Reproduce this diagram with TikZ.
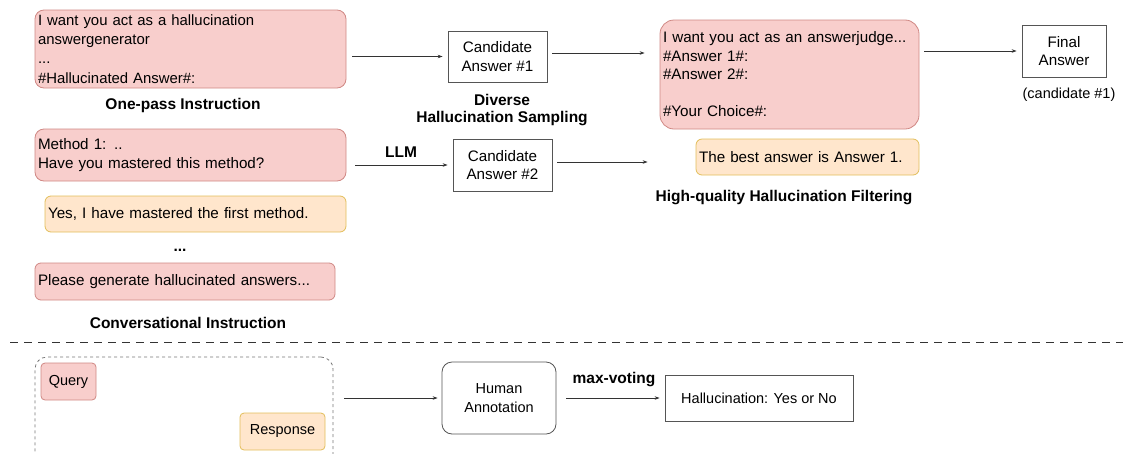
\documentclass[tikz,border=0pt]{standalone}
\usepackage{fontspec}
\setmainfont{Liberation Sans}
\usetikzlibrary{arrows.meta,calc}
\definecolor{pinkfill}{HTML}{F8CECC}
\definecolor{pinkdraw}{HTML}{D08884}
\definecolor{yelfill}{HTML}{FFE6CC}
\definecolor{yeldraw}{HTML}{E2BE5A}
\definecolor{boxdraw}{HTML}{555555}
\definecolor{arrcol}{HTML}{333333}
\tikzset{
  every node/.style={font=\fontsize{15.2}{18.5}\selectfont},
  pinkbox/.style={draw=pinkdraw,fill=pinkfill,rounded corners=9pt,line width=0.8pt,align=left,inner sep=2pt},
  yelbox/.style={draw=yeldraw,fill=yelfill,rounded corners=6pt,line width=0.8pt,align=left,inner sep=2pt},
  plainbox/.style={draw=boxdraw,fill=white,line width=0.8pt,align=center,inner sep=2pt},
  ttl/.style={font=\fontsize{15.5}{17}\selectfont\bfseries,align=center},
  small/.style={font=\fontsize{14.5}{18.5}\selectfont},
  arr/.style={draw=arrcol,line width=0.6pt,-{Stealth[length=5pt,width=3.5pt]}},
}
\begin{document}
\begin{tikzpicture}[x=1pt,y=-1pt]
\useasboundingbox (0,0) rectangle (1123,453);
\clip (0,0) rectangle (1123,453);
% top-left instruction
\node[pinkbox,minimum width=311,minimum height=78,text width=305,font=\fontsize{14.9}{19.3}\selectfont] (A) at (190.5,49)
 {I want you act as a hallucination\\answergenerator\\...\\\#Hallucinated Answer\#:};
\node[ttl] (Alab) at (183,105) {One-pass Instruction};
% candidate 1
\node[plainbox,minimum width=99,minimum height=51] (c1) at (497.5,56.5) {Candidate\\Answer \#1};
\node[ttl] (divlab) at (502,110) {Diverse\\Hallucination Sampling};
% judge
\node[pinkbox,minimum width=259,minimum height=109,text width=253,rounded corners=14pt] (judge) at (789.5,74.5)
 {I want you act as an answerjudge...\\\#Answer 1\#:\\\#Answer 2\#:\\[18.5pt]\#Your Choice\#:};
\node[plainbox,minimum width=84,minimum height=52] (final) at (1064,51) {Final\\Answer};
\node[small] (finlab) at (1069,95) {(candidate \#1)};
\node[yelbox,minimum width=223,minimum height=36,text width=217] (best) at (807.5,157) {The best answer is Answer 1.};
\node[ttl] (hqlab) at (784,198) {High-quality Hallucination Filtering};
% conversational
\node[pinkbox,minimum width=311,minimum height=52,text width=305] (meth) at (190.5,155)
 {Method 1: ..\\Have you mastered this method?};
\node[yelbox,minimum width=301,minimum height=36,text width=295] (yes) at (195.5,214) {Yes, I have mastered the first method.};
\node[ttl] (dots) at (180,250) {...};
\node[pinkbox,minimum width=300,minimum height=37,text width=294,rounded corners=6pt] (please) at (185,281.5) {Please generate hallucinated answers...};
\node[ttl] (convlab) at (188,323) {Conversational Instruction};
\node[plainbox,minimum width=99,minimum height=52] (c2) at (502.5,165) {Candidate\\Answer \#2};
\node[ttl] (llm) at (401,152) {LLM};
% arrows top
\coordinate (c1out) at ([yshift=3.5pt]c1.east);
\coordinate (c2out) at ([yshift=3pt]c2.east);
\draw[arr,shorten <=6pt,shorten >=5pt] (A.east |- c1.west) -- (c1.west);
\draw[arr,shorten <=5pt,shorten >=15pt] (c1out) -- (judge.west |- c1out);
\draw[arr,shorten <=5pt,shorten >=5pt] (judge.east |- final.west) -- (final.west);
\draw[arr,shorten <=9pt,shorten >=5pt] (meth.east |- c2.west) -- (c2.west);
\draw[arr,shorten <=5pt,shorten >=12pt] (c2out) -- (judge.west |- c2out);
% separator
\coordinate (sepL) at (10,342);
\coordinate (sepR) at (1123,342);
\draw[draw=arrcol,line width=0.8pt,dash pattern=on 8pt off 6pt] (sepL) -- (sepR);
% bottom
\node[draw=boxdraw!80,line width=0.8pt,dashed,rounded corners=12pt,minimum width=298,minimum height=110] (grp) at (184,412) {};
\node[pinkbox,small,minimum width=55,minimum height=37,align=center,rounded corners=4pt] (query) at (68.5,381.5) {Query};
\node[yelbox,small,minimum width=85,minimum height=37,align=center,rounded corners=4pt] (resp) at (282.5,431.5) {Response};
\node[plainbox,small,rounded corners=10pt,minimum width=114,minimum height=72] (human) at (499,398) {Human\\Annotation};
\node[plainbox,small,minimum width=188,minimum height=46] (hall) at (759,398) {Hallucination: Yes or No};
\node[ttl] (mv) at (614,380) {max-voting};
\draw[arr,shorten <=11pt,shorten >=4pt] (grp.east |- human.west) -- (human.west);
\draw[arr,shorten <=10pt,shorten >=5pt] (human.east) -- (hall.west);
\end{tikzpicture}
\end{document}
